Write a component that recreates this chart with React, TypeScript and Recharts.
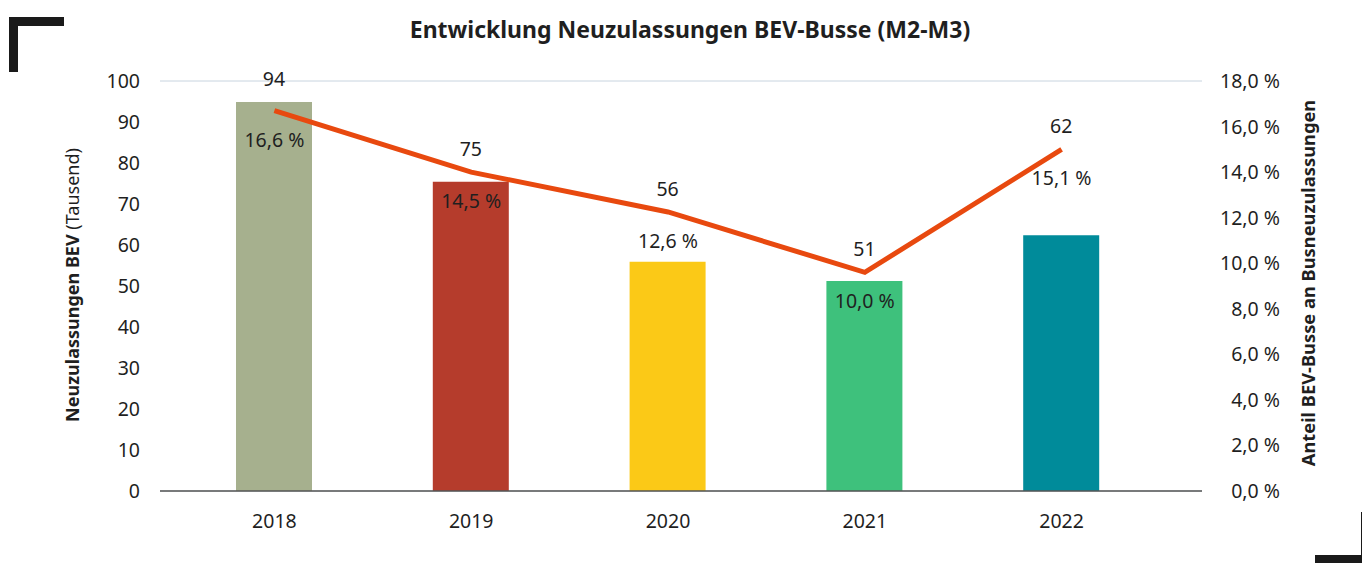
import React from "react";
import { ComposedChart, Bar, Line, XAxis, YAxis, CartesianGrid, Cell, LabelList } from "recharts";

const years = ["2018", "2019", "2020", "2021", "2022"];
const registrations = [94.9, 75.4, 55.9, 51.2, 62.4];
const registrationLabels = ["94", "75", "56", "51", "62"];
const shareLine = [16.7, 14.0, 12.25, 9.6, 15.0];
const shareLabels = ["16,6 %", "14,5 %", "12,6 %", "10,0 %", "15,1 %"];
const barColors = ["#a6b08e", "#b53c2c", "#fbc917", "#3ec17c", "#008b9a"];
const leftTicks = [0, 10, 20, 30, 40, 50, 60, 70, 80, 90, 100];
const rightTicks = [0, 2, 4, 6, 8, 10, 12, 14, 16, 18];

const data = years.map((y, i) => ({ year: y, count: registrations[i], share: shareLine[i] }));

const FONT = "'Noto Sans', sans-serif";
const TEXT = "#1f1f1f";
const FS = 19.5;

const LeftTick = (props: any) => {
  const { x, y, payload } = props;
  return (
    <text x={x - 12} y={y} dy={7} textAnchor="end" fontSize={FS} fill={TEXT} fontFamily={FONT}>
      {payload.value}
    </text>
  );
};

const RightTick = (props: any) => {
  const { x, y, payload } = props;
  return (
    <text x={x + 70} y={y} dy={7} textAnchor="end" fontSize={FS} fill={TEXT} fontFamily={FONT}>
      {payload.value.toFixed(1).replace(".", ",") + " %"}
    </text>
  );
};

const BottomTick = (props: any) => {
  const { x, y, payload } = props;
  return (
    <text x={x} y={y} dy={29} textAnchor="middle" fontSize={FS} fill={TEXT} fontFamily={FONT}>
      {payload.value}
    </text>
  );
};

const CountLabel = (props: any) => {
  const { x, y, width, height, index } = props;
  const value = registrations[index];
  const bottom = y + height;
  const plotH = (100 * height) / value;
  const lineY = bottom - (shareLine[index] / 18) * plotH;
  const ly = Math.min(y, lineY) - 23;
  return (
    <text x={x + width / 2} y={ly} dy={7} textAnchor="middle" fontSize={FS} fill={TEXT} fontFamily={FONT}>
      {registrationLabels[index]}
    </text>
  );
};

const ShareLabel = (props: any) => {
  const { x, y, index } = props;
  return (
    <text x={x} y={y + 29} dy={7} textAnchor="middle" fontSize={FS} fill={TEXT} fontFamily={FONT}>
      {shareLabels[index]}
    </text>
  );
};

export default function App() {
  return (
    <div style={{ position: "absolute", left: 0, top: 0, width: 1362, height: 563, background: "#fff", overflow: "hidden" }}>
      <div style={{ position: "absolute", left: 9, top: 17, width: 9, height: 55, background: "#1a1a1a" }} />
      <div style={{ position: "absolute", left: 9, top: 17, width: 55, height: 9, background: "#1a1a1a" }} />
      <div style={{ position: "absolute", left: 1315, top: 555, width: 60, height: 9, background: "#1a1a1a" }} />
      <div style={{ position: "absolute", left: 1361, top: 512, width: 9, height: 60, background: "#1a1a1a" }} />
      <div
        style={{
          position: "absolute",
          left: 0,
          width: 1380,
          top: 13,
          textAlign: "center",
          fontFamily: FONT,
          fontWeight: 700,
          fontSize: 23,
          color: TEXT,
        }}
      >
        Entwicklung Neuzulassungen BEV-Busse (M2-M3)
      </div>
      <div
        style={{
          position: "absolute",
          left: 72,
          top: 285,
          transform: "translate(-50%, -50%) rotate(-90deg)",
          whiteSpace: "nowrap",
          fontFamily: FONT,
          fontSize: 18,
          color: TEXT,
        }}
      >
        <span style={{ fontWeight: 700 }}>Neuzulassungen BEV</span> (Tausend)
      </div>
      <div
        style={{
          position: "absolute",
          left: 1307,
          top: 283,
          transform: "translate(-50%, -50%) rotate(-90deg)",
          whiteSpace: "nowrap",
          fontFamily: FONT,
          fontSize: 18.3,
          fontWeight: 700,
          color: TEXT,
        }}
      >
        Anteil BEV-Busse an Busneuzulassungen
      </div>
      <div style={{ position: "absolute", left: 0, top: 0 }}>
        <ComposedChart width={1362} height={563} data={data} margin={{ top: 81, right: 60, bottom: 40, left: 60 }}>
          <CartesianGrid vertical={false} stroke="#c8d4df" strokeWidth={1} />
          <XAxis
            dataKey="year"
            axisLine={{ stroke: "#555", strokeWidth: 1.5 }}
            tickLine={false}
            tick={<BottomTick />}
            height={32}
            padding={{ left: 16, right: 42 }}
            interval={0}
          />
          <YAxis
            yAxisId="left"
            domain={[0, 100]}
            ticks={leftTicks}
            axisLine={false}
            tickLine={false}
            width={100}
            tick={<LeftTick />}
            interval={0}
          />
          <YAxis
            yAxisId="right"
            orientation="right"
            domain={[0, 18]}
            ticks={rightTicks}
            axisLine={false}
            tickLine={false}
            width={100}
            tick={<RightTick />}
            interval={0}
          />
          <Bar yAxisId="left" dataKey="count" barSize={76} isAnimationActive={false}>
            {data.map((d, i) => (
              <Cell key={d.year} fill={barColors[i]} />
            ))}
            <LabelList dataKey="count" content={<CountLabel />} />
          </Bar>
          <Line
            yAxisId="right"
            type="linear"
            dataKey="share"
            stroke="#e8490f"
            strokeWidth={5}
            dot={false}
            activeDot={false}
            isAnimationActive={false}
          >
            <LabelList dataKey="share" content={<ShareLabel />} />
          </Line>
        </ComposedChart>
      </div>
    </div>
  );
}
